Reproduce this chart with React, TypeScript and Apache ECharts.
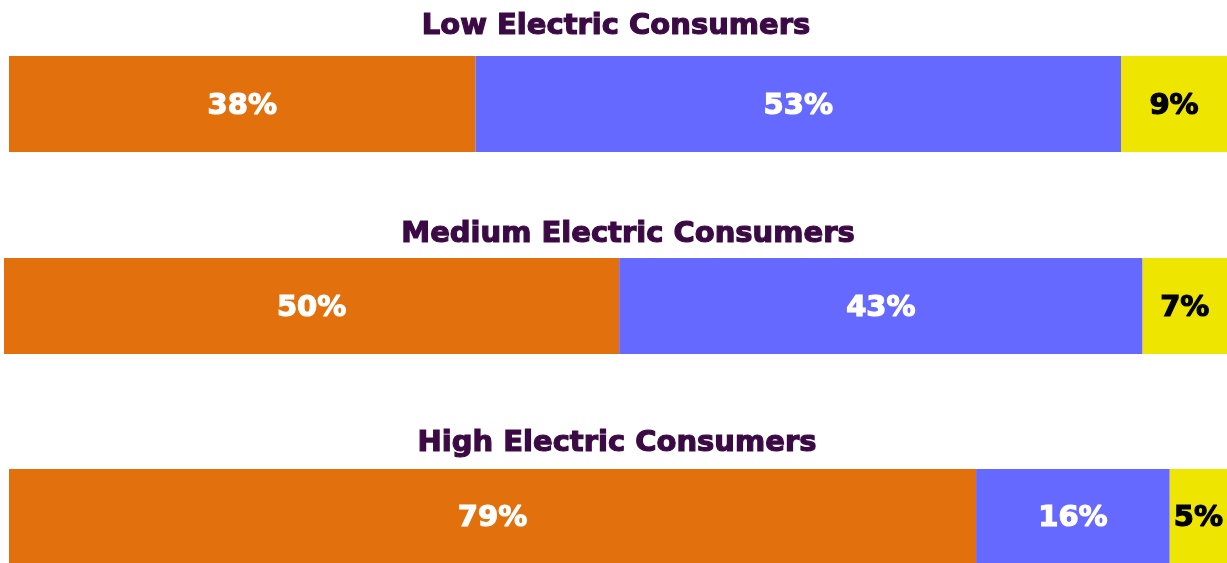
import React, { useEffect, useRef } from "react";
import * as echarts from "echarts";

const groups = ["Low Electric Consumers", "Medium Electric Consumers", "High Electric Consumers"];
const segmentNames = ["Segment A", "Segment B", "Segment C"];
const lowValues = [38.3, 53.0, 8.7];
const mediumValues = [50.3, 42.8, 6.9];
const highValues = [79.4, 15.9, 4.7];
const allValues = [lowValues, mediumValues, highValues];

const colors = ["#E1700D", "#6669FF", "#EEE600"];
const labelColors = ["#FFFFFF", "#FFFFFF", "#000000"];
const titleColor = "#3B0A45";
const TITLE_FONT = "'DejaVu Sans', sans-serif";
const LABEL_FONT = "'DejaVu Sans', sans-serif";

const gridLayout = [
  { left: 9, top: 56, height: 96 },
  { left: 4, top: 258, height: 96 },
  { left: 9, top: 469, height: 94 },
];
const titlePos = [
  { x: 616, y: 24 },
  { x: 628, y: 232 },
  { x: 617, y: 441 },
];

export default function App() {
  const ref = useRef<HTMLDivElement>(null);
  useEffect(() => {
    if (!ref.current) return;
    const chart = echarts.init(ref.current, null, { renderer: "svg" });
    const grid = gridLayout.map((g) => ({ left: g.left, right: 0, top: g.top, height: g.height, containLabel: false }));
    const xAxis = gridLayout.map((_, i) => ({
      type: "value", gridIndex: i, min: 0, max: 100, show: false,
    }));
    const yAxis = gridLayout.map((_, i) => ({
      type: "category", gridIndex: i, data: [groups[i]], show: false,
    }));
    const series: any[] = [];
    allValues.forEach((vals, gi) => {
      vals.forEach((v, si) => {
        series.push({
          type: "bar",
          name: segmentNames[si],
          xAxisIndex: gi,
          yAxisIndex: gi,
          stack: "g" + gi,
          barWidth: "100%",
          data: [v],
          itemStyle: { color: colors[si] },
          label: {
            show: true,
            position: "inside",
            formatter: (p: any) => Math.round(p.value) + "%",
            color: labelColors[si],
            fontSize: 29,
            fontWeight: "bold",
            fontFamily: LABEL_FONT,
            textBorderColor: labelColors[si],
            textBorderWidth: 1.2,
          },
        });
      });
    });
    chart.setOption({
      animation: false,
      grid,
      xAxis,
      yAxis,
      series,
      graphic: groups.map((t, i) => ({
        type: "text",
        x: titlePos[i].x,
        y: titlePos[i].y,
        style: {
          text: t,
          textAlign: "center",
          textVerticalAlign: "middle",
          fontSize: 29,
          fontWeight: "bold",
          fontFamily: TITLE_FONT,
          fill: titleColor,
          stroke: titleColor,
          lineWidth: 1.2,
        },
      })),
    });
    return () => chart.dispose();
  }, []);
  return <div ref={ref} style={{ position: "fixed", left: 0, top: 0, width: 1227, height: 563 }} />;
}
